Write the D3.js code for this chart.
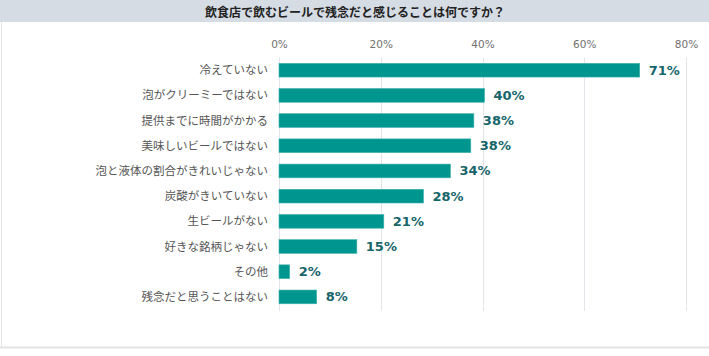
<!DOCTYPE html>
<html><head><meta charset="utf-8">
<script src="https://cdn.jsdelivr.net/npm/d3@7"></script>
<style>body{margin:0;background:#fff}svg{display:block}</style>
</head><body><svg id="c" width="709" height="356"></svg>
<script>
const title = "飲食店で飲むビールで残念だと感じることは何ですか？";
const categories = ["冷えていない","泡がクリーミーではない","提供までに時間がかかる","美味しいビールではない","泡と液体の割合がきれいじゃない","炭酸がきいていない","生ビールがない","好きな銘柄じゃない","その他","残念だと思うことはない"];
const values = [70.9, 40.4, 38.3, 37.7, 33.7, 28.4, 20.6, 15.3, 2.1, 7.4];
const valueLabels = ["71%","40%","38%","38%","34%","28%","21%","15%","2%","8%"];
const ticks = [0, 20, 40, 60, 80];

const svg = d3.select("#c");
const W = 709, H = 356;
const jp = "'Noto Sans CJK JP','Noto Sans',sans-serif";

svg.append("rect").attr("x",0).attr("y",0).attr("width",W).attr("height",22).attr("fill","#d6dce4");
svg.append("text").attr("x",355).attr("y",11).attr("text-anchor","middle").attr("dominant-baseline","central")
  .attr("font-family",jp).attr("font-size",12).attr("font-weight","bold").attr("fill","#222").text(title);

svg.append("line").attr("x1",1.5).attr("x2",1.5).attr("y1",22).attr("y2",347).attr("stroke","#e6e6e6");
svg.append("line").attr("x1",0).attr("x2",W).attr("y1",347.5).attr("y2",347.5).attr("stroke","#e3e3e3").attr("stroke-width",2);

const x = d3.scaleLinear().domain([0,80]).range([279,686]);
const y = d3.scaleBand().domain(categories).range([57.6,309.5]).paddingInner(0.455).paddingOuter(0.2275);

const g = svg.append("g");
g.selectAll("line.grid").data(ticks).join("line").attr("class","grid")
  .attr("x1",d=>Math.round(x(d))+0.5).attr("x2",d=>Math.round(x(d))+0.5)
  .attr("y1",57.6).attr("y2",311).attr("stroke","#e2e5ea").attr("stroke-width",1);

const axis = d3.axisTop(x).tickValues(ticks).tickFormat(d=>d+"%").tickSize(0).tickPadding(0);
const ax = svg.append("g").attr("transform","translate(0,48)").call(axis);
ax.select(".domain").remove();
ax.selectAll("text").attr("font-family","'DejaVu Sans',Verdana,sans-serif").attr("font-size",10.5).attr("fill","#707070");

const yAxis = d3.axisLeft(y).tickSize(0).tickPadding(0);
const ya = svg.append("g").attr("transform","translate(268,0)").call(yAxis);
ya.select(".domain").remove();
ya.selectAll("text").attr("font-family",jp).attr("font-size",11.5).attr("fill","#555").attr("dy","0.35em");

svg.append("g").selectAll("rect").data(values).join("rect")
  .attr("x",x(0)).attr("y",(d,i)=>y(categories[i]))
  .attr("width",d=>x(d)-x(0)).attr("height",y.bandwidth())
  .attr("fill","#009690").attr("stroke","#3fb1ac").attr("stroke-width",0.6);

svg.append("g").selectAll("text").data(values).join("text")
  .attr("x",d=>x(d)+9).attr("y",(d,i)=>y(categories[i])+y.bandwidth()/2)
  .attr("dominant-baseline","central")
  .attr("font-family","'DejaVu Sans',Verdana,sans-serif").attr("font-size",13).attr("font-weight","bold")
  .attr("fill","#16656a").text((d,i)=>valueLabels[i]);
</script></body></html>
